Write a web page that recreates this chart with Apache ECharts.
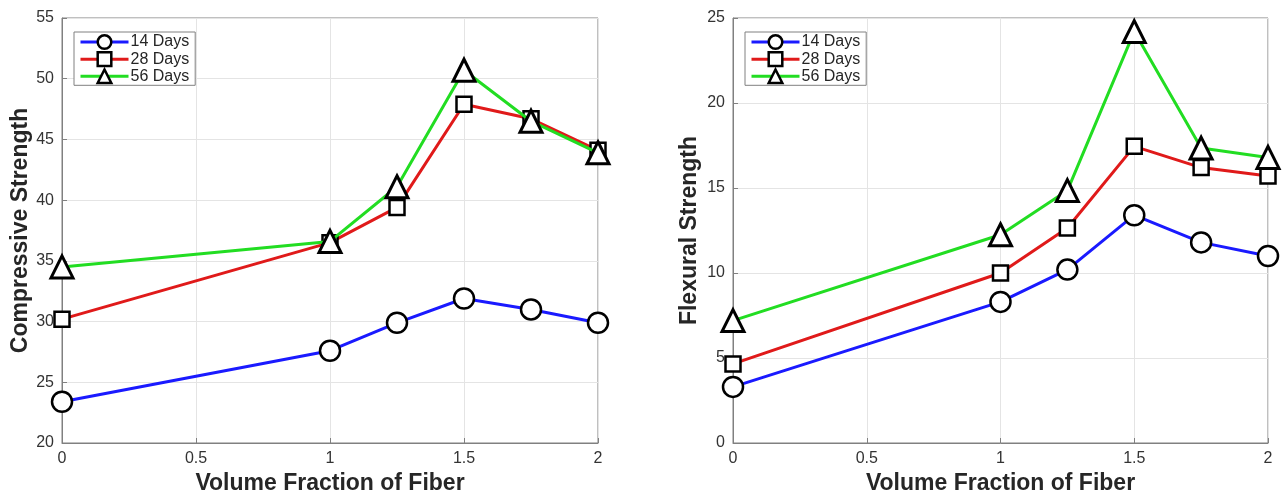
<!DOCTYPE html>
<html>
<head>
<meta charset="utf-8">
<script src="https://cdn.jsdelivr.net/npm/echarts@6/dist/echarts.min.js"></script>
<style>html,body{margin:0;padding:0;background:#fff}#c{width:1284px;height:493px}</style>
</head>
<body>
<div id="c"></div>
<script>
const xValues = [0, 1, 1.25, 1.5, 1.75, 2];
const seriesNames = ['14 Days', '28 Days', '56 Days'];
const compressive14 = [23.4, 27.6, 29.9, 31.9, 31.0, 29.9];
const compressive28 = [30.2, 36.5, 39.4, 47.9, 46.7, 44.1];
const compressive56 = [34.5, 36.6, 41.1, 50.7, 46.5, 43.9];
const flexural14 = [3.3, 8.3, 10.2, 13.4, 11.8, 11.0];
const flexural28 = [4.65, 10.0, 12.65, 17.45, 16.2, 15.7];
const flexural56 = [7.2, 12.25, 14.85, 24.2, 17.35, 16.8];
const xTicks = [0, 0.5, 1, 1.5, 2];
const compressiveTicks = [20, 25, 30, 35, 40, 45, 50, 55];
const flexuralTicks = [0, 5, 10, 15, 20, 25];

const FONT = '"Liberation Sans", Arial, sans-serif';
const lineColors = ['#1a1aff', '#e01a1a', '#22dd22'];
const symbols = ['circle', 'rect', 'triangle'];
const symbolSizes = [20, 15, 22];
const borderWidths = [2.5, 2.5, 3];

function pair(arr) { return xValues.map((x, i) => [x, arr[i]]); }

function mkX(idx) {
  return {
    type: 'value', gridIndex: idx, min: xTicks[0], max: xTicks[xTicks.length - 1], interval: 0.5,
    name: 'Volume Fraction of Fiber', nameLocation: 'middle', nameGap: 26,
    nameTextStyle: { fontFamily: FONT, fontSize: 23, fontWeight: 'bold', color: '#262626' },
    axisLine: { show: true, onZero: false, lineStyle: { color: '#808080', width: 1 } },
    axisTick: { show: true, inside: true, length: 5, lineStyle: { color: '#808080' } },
    axisLabel: { fontFamily: FONT, fontSize: 16, color: '#333333', margin: 8,
      formatter: v => String(v) },
    splitLine: { show: true, lineStyle: { color: '#e4e4e4', width: 1 } }
  };
}
function mkY(idx, ticks, name, gap) {
  return {
    type: 'value', gridIndex: idx, min: ticks[0], max: ticks[ticks.length - 1], interval: 5,
    name: name, nameLocation: 'middle', nameGap: gap,
    nameTextStyle: { fontFamily: FONT, fontSize: 23, fontWeight: 'bold', color: '#262626' },
    axisLine: { show: true, onZero: false, lineStyle: { color: '#808080', width: 1 } },
    axisTick: { show: true, inside: true, length: 5, lineStyle: { color: '#808080' } },
    axisLabel: { fontFamily: FONT, fontSize: 16, color: '#333333', margin: 8 },
    splitLine: { show: true, lineStyle: { color: '#e4e4e4', width: 1 } }
  };
}
function mkSeries(idx, data, k) {
  return {
    name: seriesNames[k], type: 'line', xAxisIndex: idx, yAxisIndex: idx,
    data: pair(data), symbol: symbols[k], symbolSize: symbolSizes[k],
    showAllSymbol: true,
    lineStyle: { color: lineColors[k], width: 3 },
    itemStyle: { color: '#ffffff', borderColor: '#000000', borderWidth: borderWidths[k] },
    emphasis: { disabled: true }, z: 2 + k, animation: false
  };
}
function mkLegend(left) {
  return {
    data: seriesNames, left: left, top: 32, orient: 'vertical',
    itemGap: 1, itemWidth: 48, itemHeight: 17, padding: [2, 6, 1, 5],
    backgroundColor: '#ffffff', borderColor: '#808080', borderWidth: 1,
    textStyle: { fontFamily: FONT, fontSize: 16, color: '#262626', padding: [0, 0, 0, -3] },
    lineStyle: { width: 3 },
    itemStyle: { borderWidth: 2.5 },
    selectedMode: false
  };
}
function mkGrid(left, right) {
  return { left: left, right: right, top: 18, bottom: 50, show: true, borderColor: '#808080',
    borderWidth: 1, backgroundColor: '#fff', containLabel: false, outerBoundsMode: 'none' };
}

const chart = echarts.init(document.getElementById('c'), null, { renderer: 'canvas' });
chart.setOption({
  animation: false,
  grid: [mkGrid(62, 686), mkGrid(733, 16)],
  xAxis: [mkX(0), mkX(1)],
  yAxis: [mkY(0, compressiveTicks, 'Compressive Strength', 30), mkY(1, flexuralTicks, 'Flexural Strength', 32)],
  legend: [mkLegend(74), mkLegend(745)],
  series: [
    mkSeries(0, compressive14, 0), mkSeries(0, compressive28, 1), mkSeries(0, compressive56, 2),
    mkSeries(1, flexural14, 0), mkSeries(1, flexural28, 1), mkSeries(1, flexural56, 2)
  ]
});
</script>
</body>
</html>
